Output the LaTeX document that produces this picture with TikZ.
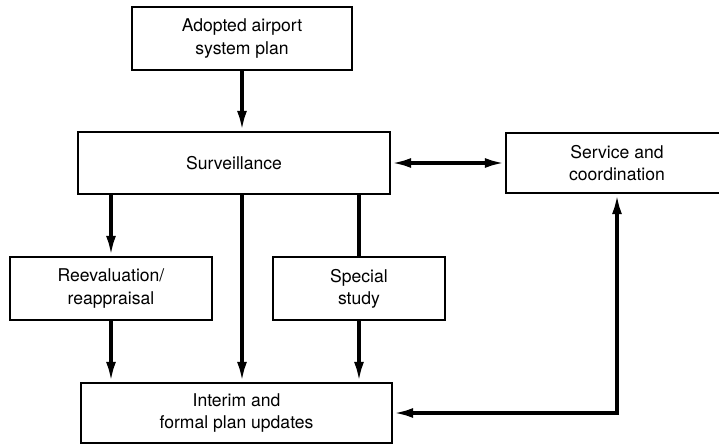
\documentclass[tikz,border=0pt]{standalone}
\usepackage{fontspec}
\setmainfont{TeX Gyre Heros}
\usetikzlibrary{arrows.meta,positioning,calc}

\begin{document}
\begin{tikzpicture}[
  x=0.03cm, y=-0.03cm,
  font=\fontsize{15}{19}\selectfont,
  box/.style={draw, line width=2pt, align=center, inner sep=2pt},
  arr/.style={-{Latex[length=6mm,width=3mm]}, line width=3pt},
  darr/.style={{Latex[length=6mm,width=3mm]}-{Latex[length=6mm,width=3mm]}, line width=3pt},
  ln/.style={line width=3pt}
]
\clip (0,0) rectangle (719,444);
% boxes
\node[box, minimum width=6.6cm, minimum height=1.89cm] (plan) at (242,38.5) {Adopted airport\\system plan};
\node[box, minimum width=9.36cm, minimum height=1.86cm] (surv) at (234,163) {Surveillance};
\node[box, minimum width=6.66cm, minimum height=1.8cm] (serv) at (617,163) {Service and\\coordination};
\node[box, minimum width=6.06cm, minimum height=1.89cm] (reev) at (111,288.5) {Reevaluation/\\reappraisal};
\node[box, minimum width=5.16cm, minimum height=1.89cm] (spec) at (359,288.5) {Special\\study};
\node[box, minimum width=9.33cm, minimum height=1.8cm] (upd) at (236.5,413) {Interim and\\formal plan updates};
% connectors
\draw[arr] (plan.south) -- (plan.south |- surv.north);
\draw[darr] (surv.east) -- (serv.west);
\draw[arr] (reev.north |- surv.south) -- (reev.north);
\draw[ln] (spec.north |- surv.south) -- (spec.north);
\draw[arr] (plan.south |- surv.south) -- (plan.south |- upd.north);
\draw[arr] (reev.south) -- (reev.south |- upd.north);
\draw[arr] (spec.south) -- (spec.south |- upd.north);
\draw[darr] (upd.east) -| (serv.south);
\end{tikzpicture}
\end{document}
